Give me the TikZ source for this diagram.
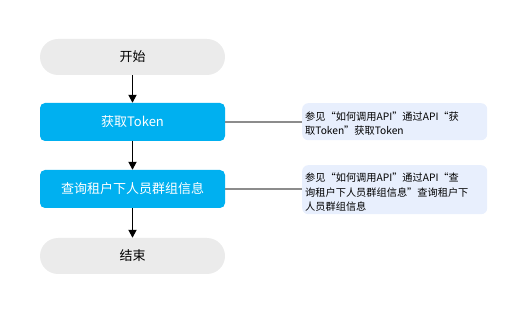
\documentclass[tikz,border=0pt]{standalone}
\usepackage{fontspec}
\setmainfont{Noto Sans CJK SC}
\usetikzlibrary{arrows.meta}
\definecolor{stepblue}{HTML}{00B0F0}
\definecolor{termgray}{HTML}{EBEBEB}
\definecolor{notebg}{HTML}{E8EFFD}
\definecolor{linkgray}{HTML}{8C8C8C}
\begin{document}
\begin{tikzpicture}[x=1pt,y=-1pt,
  term/.style={draw=none,fill=termgray,rounded corners=18pt,minimum width=185pt,minimum height=36pt,font=\fontsize{13}{15}\selectfont,text=black},
  stepbox/.style={draw=none,fill=stepblue,rounded corners=5pt,minimum width=185pt,minimum height=38pt,font=\fontsize{13}{15}\selectfont,text=white},
  notebox/.style={draw=none,fill=notebg,rounded corners=6pt,anchor=north west},
  notetext/.style={anchor=base west,align=left,inner sep=0pt,text=black},
  flow/.style={draw=black,line width=1.7pt,-{Triangle[length=8pt,width=8pt]}},
  link/.style={draw=linkgray,line width=1.8pt}
]
\useasboundingbox (0,0) rectangle (525,312);
\node[term] (start) at (132.5,57) {开始};
\node[stepbox] (tok) at (132.5,122) {获取Token};
\node[stepbox] (qry) at (132.5,189) {查询租户下人员群组信息};
\node[term] (end) at (132.5,256) {结束};
\draw[flow] (start) -- (tok);
\draw[flow] (tok) -- (qry);
\draw[flow] (qry) -- (end);
\node[notebox,minimum width=185pt,minimum height=37pt] (n1) at (302,103) {};
\node[notetext,font=\fontsize{10.2}{14}\selectfont] (t1) at (305,135) {参见“如何调用API”通过API“获\\取Token”获取Token};
\node[notebox,minimum width=185pt,minimum height=49pt] (n2) at (302,165) {};
\node[notetext,font=\fontsize{10.2}{14.5}\selectfont] (t2) at (305,211) {参见“如何调用API”通过API“查\\询租户下人员群组信息”查询租户下\\人员群组信息};
\draw[link] (tok.east) -- (tok.east -| n1.west);
\draw[link] (qry.east) -- (qry.east -| n2.west);
\end{tikzpicture}
\end{document}
